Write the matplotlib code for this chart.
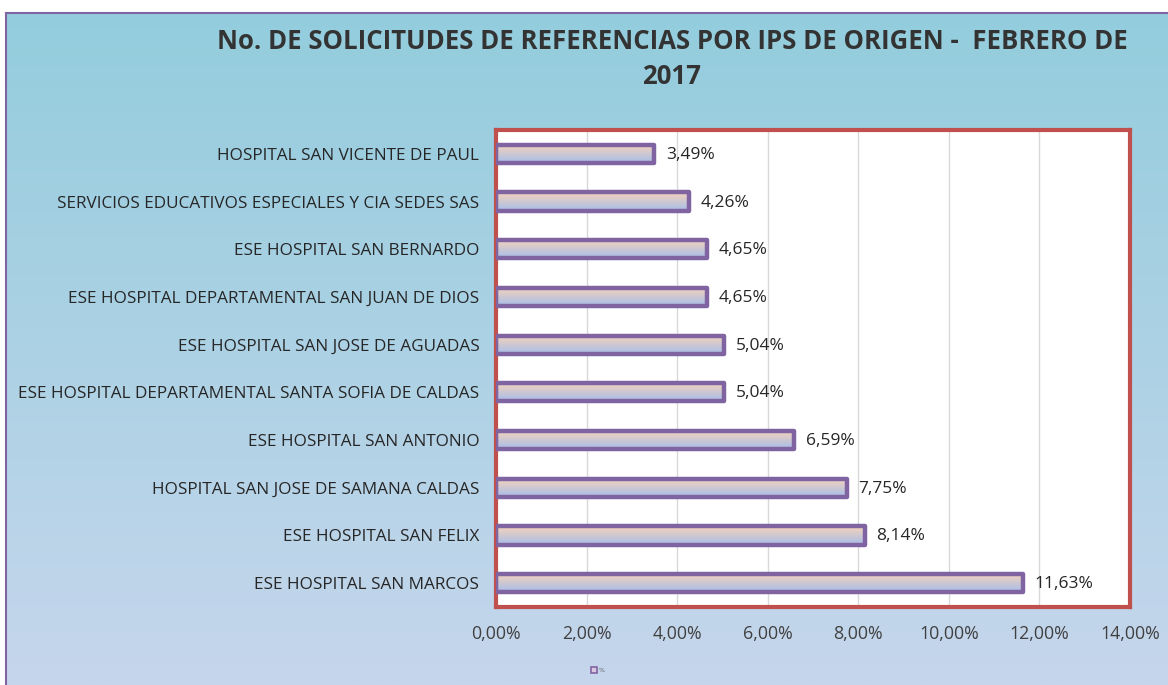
import numpy as np
import matplotlib.pyplot as plt
from matplotlib.patches import Rectangle

# Datos
ips = ['HOSPITAL SAN VICENTE DE PAUL',
       'SERVICIOS EDUCATIVOS ESPECIALES Y CIA SEDES SAS',
       'ESE HOSPITAL SAN BERNARDO',
       'ESE HOSPITAL DEPARTAMENTAL SAN JUAN DE DIOS',
       'ESE HOSPITAL SAN JOSE DE AGUADAS',
       'ESE HOSPITAL DEPARTAMENTAL SANTA SOFIA DE CALDAS',
       'ESE HOSPITAL SAN ANTONIO',
       'HOSPITAL SAN JOSE DE SAMANA CALDAS',
       'ESE HOSPITAL SAN FELIX',
       'ESE HOSPITAL SAN MARCOS']
porcentaje = [3.49, 4.26, 4.65, 4.65, 5.04, 5.04, 6.59, 7.75, 8.14, 11.63]
ticks = [0, 2, 4, 6, 8, 10, 12, 14]

W, H = 1168, 685
fig = plt.figure(figsize=(W / 100, H / 100), dpi=100)
fig.patch.set_facecolor('white')

# Fondo degradado del area del grafico
bg = fig.add_axes([6 / W, 0, 1 - 6 / W, 1 - 13 / H])
grad = np.linspace(0, 1, 256).reshape(-1, 1)
top = np.array([0x93, 0xCD, 0xDD]) / 255
bot = np.array([0xC6, 0xD6, 0xEC]) / 255
img = top[None, None, :] * (1 - grad[:, :, None]) + bot[None, None, :] * grad[:, :, None]
bg.imshow(img, aspect='auto', extent=(0, 1, 0, 1))
bg.set_xlim(0, 1)
bg.set_ylim(0, 1)
bg.set_xticks([])
bg.set_yticks([])
for k, s in bg.spines.items():
    s.set_color('#8064A2')
    s.set_linewidth(1.5)
    if k in ('bottom', 'right'):
        s.set_visible(False)
bg.set_zorder(0)

# Area de trazado
x0, x1, y0, y1 = 496, 1130, 130, 607
ax = fig.add_axes([x0 / W, 1 - y1 / H, (x1 - x0) / W, (y1 - y0) / H])
ax.set_facecolor('white')
ax.set_zorder(1)

n = len(ips)
ypos = np.arange(n)
bar_h = 0.38
bar_grad = np.linspace(0, 1, 64).reshape(-1, 1)
c_top = np.array([0xF6, 0xD2, 0xBA]) / 255
c_bot = np.array([0xA6, 0xBE, 0xEA]) / 255
bar_img = c_top[None, None, :] * (1 - bar_grad[:, :, None]) + c_bot[None, None, :] * bar_grad[:, :, None]

for i, v in enumerate(porcentaje):
    yc = ypos[i]
    ax.imshow(bar_img, aspect='auto', extent=(0, v, yc + bar_h / 2, yc - bar_h / 2), zorder=2)
    ax.add_patch(Rectangle((0, yc - bar_h / 2), v, bar_h, fill=False,
                           edgecolor='#8064A2', linewidth=3.2, joinstyle='round', zorder=3))
    ax.text(v + 0.26, yc + 0.02, f'{v:.2f}%'.replace('.', ','), va='center', ha='left',
            fontsize=12.5, color='#262626', family='Open Sans', zorder=4)

ax.set_xlim(0, 14)
ax.set_ylim(n - 0.5, -0.5)
ax.set_xticks(ticks)
ax.set_xticklabels([f'{t:.2f}%'.replace('.', ',') for t in ticks],
                   fontsize=12.8, color='#404040', family='Open Sans')
ax.set_yticks(ypos)
ax.set_yticklabels(ips, fontsize=12.3, color='#262626', family='Open Sans')
ax.tick_params(length=0, axis='both')
ax.tick_params(axis='x', pad=13)
ax.tick_params(axis='y', pad=12)
ax.grid(axis='x', color='#D9D9D9', linewidth=1, zorder=0)
ax.set_axisbelow(True)
for s in ax.spines.values():
    s.set_color('#C0504D')
    s.set_linewidth(3)

# Titulo
fig.text(672 / W, 1 - 59 / H, 'No. DE SOLICITUDES DE REFERENCIAS POR IPS DE ORIGEN -  FEBRERO DE\n2017',
         ha='center', va='center', fontsize=18.5, fontweight='bold', color='#333333',
         family='Open Sans', linespacing=1.35)

# Leyenda
fig.patches.append(Rectangle((591 / W, 1 - 673 / H), 6 / W, 6 / H, transform=fig.transFigure,
                             facecolor='#D9C8E0', edgecolor='#8064A2', linewidth=1.2, zorder=5))
fig.text(599 / W, 1 - 670 / H, '%', fontsize=4.5, color='#595959', va='center', ha='left')

fig.savefig('out.png', dpi=100)
